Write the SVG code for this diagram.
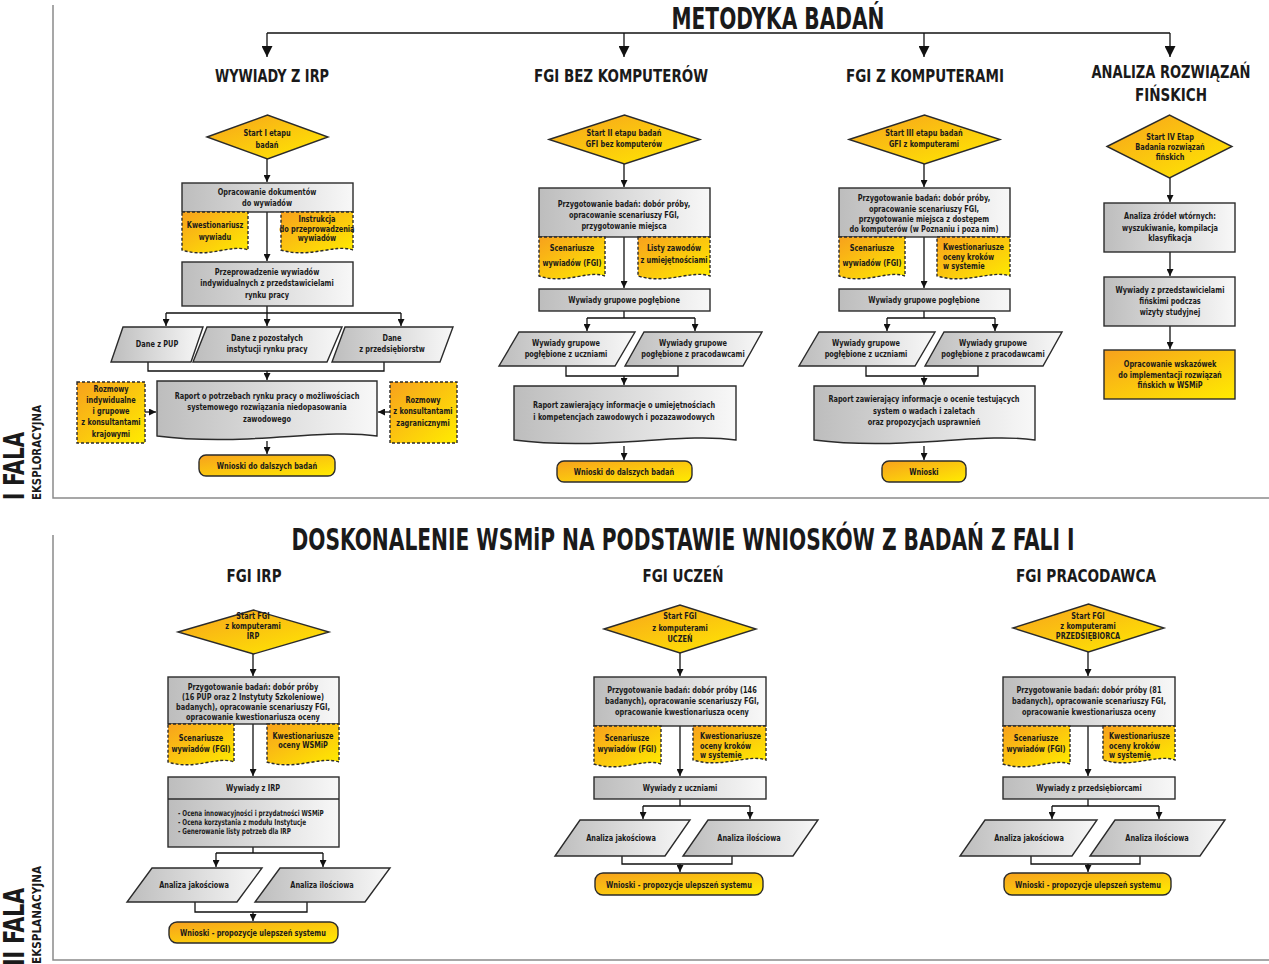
<svg xmlns="http://www.w3.org/2000/svg" width="1269" height="964" viewBox="0 0 1269 964">
<defs>
<linearGradient id="gy" x1="0" y1="0" x2="1" y2="0"><stop offset="0" stop-color="#bdbdbd"/><stop offset="1" stop-color="#f8f8f8"/></linearGradient>
<linearGradient id="or" x1="0" y1="0" x2="1" y2="1"><stop offset="0" stop-color="#f7a11d"/><stop offset="1" stop-color="#ffec00"/></linearGradient>
<marker id="a" markerUnits="userSpaceOnUse" markerWidth="7" markerHeight="7" refX="7" refY="3.5" orient="auto"><path d="M0,0 L7,3.5 L0,7 Z" fill="#111"/></marker>
<marker id="A" markerUnits="userSpaceOnUse" markerWidth="11" markerHeight="11" refX="11" refY="5.5" orient="auto"><path d="M0,0 L11,5.5 L0,11 Z" fill="#111"/></marker>
<style>
.n{stroke:#2b2b2b;stroke-width:1.4}
.gy{fill:url(#gy)}
.or{fill:url(#or)}
.ds{stroke-dasharray:3 2}
text{font-family:'Liberation Sans Narrow','DejaVu Sans Condensed','Roboto Condensed',sans-serif;font-weight:bold;fill:#1a1a1a}
.s{font-size:9.5px;text-anchor:middle;transform-box:fill-box;transform-origin:center;transform:scaleX(.77)}
.x{font-size:8.2px}
.l{text-anchor:start;transform-origin:left center}
.h{font-size:18px;text-anchor:middle}
.T{font-size:30px;text-anchor:middle}
.c{fill:none;stroke:#111;stroke-width:1.3}
.ca{fill:none;stroke:#111;stroke-width:1.3;marker-end:url(#a)}
.cA{fill:none;stroke:#111;stroke-width:1.3;marker-end:url(#A)}
.fr{fill:none;stroke:#8a8a8a;stroke-width:1.5}
</style>
</defs>
<rect width="1269" height="964" fill="#fff"/>

<g id="frames">
<path class="fr" d="M53,5 V498 H1269"/>
<path class="fr" d="M53,535 V960 H1269"/>
</g>

<g id="labels">
<text class="T" x="778" y="29" textLength="213" lengthAdjust="spacingAndGlyphs">METODYKA BADAŃ</text>
<text class="h" x="272" y="82" textLength="114" lengthAdjust="spacingAndGlyphs">WYWIADY Z IRP</text>
<text class="h" x="621" y="82" textLength="174" lengthAdjust="spacingAndGlyphs">FGI BEZ KOMPUTERÓW</text>
<text class="h" x="925" y="82" textLength="158" lengthAdjust="spacingAndGlyphs">FGI Z KOMPUTERAMI</text>
<text class="h" x="1171" y="78" textLength="159" lengthAdjust="spacingAndGlyphs">ANALIZA ROZWIĄZAŃ</text>
<text class="h" x="1171" y="101" textLength="72" lengthAdjust="spacingAndGlyphs">FIŃSKICH</text>
<text class="T" x="683" y="550" textLength="783" lengthAdjust="spacingAndGlyphs">DOSKONALENIE WSMiP NA PODSTAWIE WNIOSKÓW Z BADAŃ Z FALI I</text>
<text class="h" x="254" y="582" textLength="55" lengthAdjust="spacingAndGlyphs">FGI IRP</text>
<text class="h" x="683" y="582" textLength="81" lengthAdjust="spacingAndGlyphs">FGI UCZEŃ</text>
<text class="h" x="1086" y="582" textLength="140" lengthAdjust="spacingAndGlyphs">FGI PRACODAWCA</text>
<text transform="translate(24,500) rotate(-90)" font-size="28" textLength="68" lengthAdjust="spacingAndGlyphs">I FALA</text>
<text transform="translate(41,500) rotate(-90)" font-size="12" textLength="95" lengthAdjust="spacingAndGlyphs">EKSPLORACYJNA</text>
<text transform="translate(24,966) rotate(-90)" font-size="28" textLength="78" lengthAdjust="spacingAndGlyphs">II FALA</text>
<text transform="translate(41,964) rotate(-90)" font-size="12" textLength="98" lengthAdjust="spacingAndGlyphs">EKSPLANACYJNA</text>
</g>

<g id="connectors">
<path class="c" d="M267,33 H1170"/>
<path class="cA" d="M267,33 V57"/>
<path class="cA" d="M624,33 V57"/>
<path class="cA" d="M924,33 V57"/>
<path class="cA" d="M1170,33 V57"/>
<path class="ca" d="M267,159 V182"/>
<path class="ca" d="M267,212 V261"/>
<path class="c" d="M267,306 V313 M166,313 H401"/>
<path class="ca" d="M166,313 V326"/>
<path class="ca" d="M267,313 V326"/>
<path class="ca" d="M401,313 V326"/>
<path class="c" d="M148,362 V371 H384 V362"/>
<path class="ca" d="M267,371 V380"/>
<path class="ca" d="M145,412 H156"/>
<path class="ca" d="M390,412 H378"/>
<path class="ca" d="M267,441 V454"/>
<path class="ca" d="M624,164 V187"/>
<path class="ca" d="M624,237 V288"/>
<path class="c" d="M624,311 V318 M587,318 H695"/>
<path class="ca" d="M587,318 V331"/>
<path class="ca" d="M695,318 V331"/>
<path class="c" d="M566,366 V376 H678 V366"/>
<path class="ca" d="M624,376 V385"/>
<path class="ca" d="M624,446 V460"/>
<path class="ca" d="M924,164 V187"/>
<path class="ca" d="M924,237 V288"/>
<path class="c" d="M924,311 V318 M887,318 H995"/>
<path class="ca" d="M887,318 V331"/>
<path class="ca" d="M995,318 V331"/>
<path class="c" d="M866,366 V376 H978 V366"/>
<path class="ca" d="M924,376 V385"/>
<path class="ca" d="M924,446 V460"/>
<path class="ca" d="M1170,178 V202"/>
<path class="ca" d="M1170,252 V276"/>
<path class="ca" d="M1170,326 V349"/>
<path class="ca" d="M253,654 V676"/>
<path class="ca" d="M253,724 V776"/>
<path class="c" d="M253,847 V853 M216,853 H323"/>
<path class="ca" d="M216,853 V867"/>
<path class="ca" d="M323,853 V867"/>
<path class="c" d="M195,902 V912 H307 V902"/>
<path class="ca" d="M253,912 V921"/>
<path class="ca" d="M680,653 V676"/>
<path class="ca" d="M680,726 V776"/>
<path class="c" d="M680,799 V806 M643,806 H750"/>
<path class="ca" d="M643,806 V819"/>
<path class="ca" d="M750,806 V819"/>
<path class="c" d="M622,856 V864 H732 V856"/>
<path class="ca" d="M680,864 V872"/>
<path class="ca" d="M1088,652 V676"/>
<path class="ca" d="M1088,726 V776"/>
<path class="c" d="M1088,799 V806 M1052,806 H1159"/>
<path class="ca" d="M1052,806 V819"/>
<path class="ca" d="M1159,806 V819"/>
<path class="c" d="M1031,856 V864 H1140 V856"/>
<path class="ca" d="M1088,864 V872"/>
</g>

<g id="c1-start"><polygon class="n or" points="207,137 267.5,115 328,137 267.5,159"/>
<text class="s" x="267" y="136">Start I etapu</text><text class="s" x="267" y="148">badań</text></g>
<g id="c1-docs"><rect class="n gy" x="182" y="183" width="171" height="29"/>
<text class="s" x="267" y="195">Opracowanie dokumentów</text><text class="s" x="267" y="206">do wywiadów</text></g>
<g id="c1-kw"><path class="n or ds" d="M182,212 H248 V250 C231.5,243.6 208.4,258.8 182,250 Z"/>
<text class="s" x="215" y="228">Kwestionariusz</text><text class="s" x="215" y="240">wywiadu</text></g>
<g id="c1-instr"><path class="n or ds" d="M281,212 H353 V250 C335,243.6 309.8,258.8 281,250 Z"/>
<text class="s" x="317" y="222">Instrukcja</text><text class="s" x="317" y="232">do przeprowadzenia</text><text class="s" x="317" y="241">wywiadów</text></g>
<g id="c1-przepr"><rect class="n gy" x="182" y="262" width="171" height="44"/>
<text class="s" x="267" y="275">Przeprowadzenie wywiadów</text><text class="s" x="267" y="286">indywidualnych z przedstawicielami</text><text class="s" x="267" y="298">rynku pracy</text></g>
<g id="c1-pup"><polygon class="n gy" points="123,327 203,327 191,362 111,362"/>
<text class="s" x="157" y="347">Dane z PUP</text></g>
<g id="c1-inst"><polygon class="n gy" points="207,327 342,327 327,362 193,362"/>
<text class="s" x="267" y="341">Dane z pozostałych</text><text class="s" x="267" y="352">instytucji rynku pracy</text></g>
<g id="c1-przeds"><polygon class="n gy" points="345,327 453,327 440,362 332,362"/>
<text class="s" x="392" y="341">Dane</text><text class="s" x="392" y="352">z przedsiębiorstw</text></g>
<g id="c1-raport"><path class="n gy" d="M157,381 H377 V436 C322,428 245,447 157,436 Z"/>
<text class="s" x="267" y="399">Raport o potrzebach rynku pracy o możliwościach</text><text class="s" x="267" y="410">systemowego rozwiązania niedopasowania</text><text class="s" x="267" y="422">zawodowego</text></g>
<g id="c1-kraj"><rect class="n or ds" x="77" y="382" width="68" height="61"/>
<text class="s" x="111" y="392">Rozmowy</text><text class="s" x="111" y="403">indywidualne</text><text class="s" x="111" y="414">i grupowe</text><text class="s" x="111" y="425">z konsultantami</text><text class="s" x="111" y="437">krajowymi</text></g>
<g id="c1-zagr"><rect class="n or ds" x="390" y="382" width="67" height="61"/>
<text class="s" x="423" y="403">Rozmowy</text><text class="s" x="423" y="414">z konsultantami</text><text class="s" x="423" y="426">zagranicznymi</text></g>
<g id="c1-wnioski"><rect class="n or" x="199" y="455" width="136" height="21" rx="7"/>
<text class="s" x="267" y="469">Wnioski do dalszych badań</text></g>

<g id="c2-start"><polygon class="n or" points="549,139.5 624.5,115 700,139.5 624.5,164"/>
<text class="s" x="624" y="136">Start II etapu badań</text><text class="s" x="624" y="147">GFI bez komputerów</text></g>
<g id="c2-przyg"><rect class="n gy" x="539" y="188" width="171" height="49"/>
<text class="s" x="624" y="207">Przygotowanie badań: dobór próby,</text><text class="s" x="624" y="218">opracowanie scenariuszy FGI,</text><text class="s" x="624" y="229">przygotowanie miejsca</text></g>
<g id="c2-scen"><path class="n or ds" d="M539,237 H605 V276 C588.5,269.6 565.4,284.8 539,276 Z"/>
<text class="s" x="572" y="251">Scenariusze</text><text class="s" x="572" y="266">wywiadów (FGI)</text></g>
<g id="c2-listy"><path class="n or ds" d="M638,237 H710 V276 C692,269.6 666.8,284.8 638,276 Z"/>
<text class="s" x="674" y="251">Listy zawodów</text><text class="s" x="674" y="263">z umiejętnościami</text></g>
<g id="c2-wyw"><rect class="n gy" x="539" y="289" width="171" height="22"/>
<text class="s" x="624" y="303">Wywiady grupowe pogłębione</text></g>
<g id="c2-ucz"><polygon class="n gy" points="519,332 635,332 615,366 499,366"/>
<text class="s" x="566" y="346">Wywiady grupowe</text><text class="s" x="566" y="357">pogłębione z uczniami</text></g>
<g id="c2-prac"><polygon class="n gy" points="644,332 762,332 743,366 625,366"/>
<text class="s" x="693" y="346">Wywiady grupowe</text><text class="s" x="693" y="357">pogłębione z pracodawcami</text></g>
<g id="c2-raport"><path class="n gy" d="M514,386 H736 V440 C680.5,432 602.8,451 514,440 Z"/>
<text class="s" x="624" y="408">Raport zawierający informacje o umiejętnościach</text><text class="s" x="624" y="420">i kompetencjach zawodowych i pozazawodowych</text></g>
<g id="c2-wnioski"><rect class="n or" x="557" y="461" width="135" height="21" rx="7"/>
<text class="s" x="624" y="475">Wnioski do dalszych badań</text></g>

<g id="c3-start"><polygon class="n or" points="849,139.5 924.5,115 1000,139.5 924.5,164"/>
<text class="s" x="924" y="136">Start III etapu badań</text><text class="s" x="924" y="147">GFI z komputerami</text></g>
<g id="c3-przyg"><rect class="n gy" x="839" y="188" width="171" height="49"/>
<text class="s" x="924" y="201">Przygotowanie badań: dobór próby,</text><text class="s" x="924" y="212">opracowanie scenariuszy FGI,</text><text class="s" x="924" y="222">przygotowanie miejsca z dostępem</text><text class="s" x="924" y="232">do komputerów (w Poznaniu i poza nim)</text></g>
<g id="c3-scen"><path class="n or ds" d="M839,237 H905 V276 C888.5,269.6 865.4,284.8 839,276 Z"/>
<text class="s" x="872" y="251">Scenariusze</text><text class="s" x="872" y="266">wywiadów (FGI)</text></g>
<g id="c3-kw"><path class="n or ds" d="M937,237 H1010 V276 C991.75,269.6 966.2,284.8 937,276 Z"/>
<text class="s l" x="943" y="250">Kwestionariusze</text><text class="s l" x="943" y="260">oceny kroków</text><text class="s l" x="943" y="269">w systemie</text></g>
<g id="c3-wyw"><rect class="n gy" x="839" y="289" width="171" height="22"/>
<text class="s" x="924" y="303">Wywiady grupowe pogłębione</text></g>
<g id="c3-ucz"><polygon class="n gy" points="819,332 935,332 915,366 799,366"/>
<text class="s" x="866" y="346">Wywiady grupowe</text><text class="s" x="866" y="357">pogłębione z uczniami</text></g>
<g id="c3-prac"><polygon class="n gy" points="944,332 1062,332 1043,366 925,366"/>
<text class="s" x="993" y="346">Wywiady grupowe</text><text class="s" x="993" y="357">pogłębione z pracodawcami</text></g>
<g id="c3-raport"><path class="n gy" d="M814,386 H1035 V440 C979.75,432 902.4,451 814,440 Z"/>
<text class="s" x="924" y="402">Raport zawierający informacje o ocenie testujących</text><text class="s" x="924" y="414">system o wadach i zaletach</text><text class="s" x="924" y="425">oraz propozycjach usprawnień</text></g>
<g id="c3-wnioski"><rect class="n or" x="882" y="461" width="84" height="21" rx="7"/>
<text class="s" x="924" y="475">Wnioski</text></g>

<g id="c4-start"><polygon class="n or" points="1107,146.5 1169.5,115 1232,146.5 1169.5,178"/>
<text class="s" x="1170" y="140">Start IV Etap</text><text class="s" x="1170" y="150">Badania rozwiązań</text><text class="s" x="1170" y="160">fińskich</text></g>
<g id="c4-analiza"><rect class="n gy" x="1104" y="203" width="131" height="49"/>
<text class="s" x="1170" y="219">Analiza źródeł wtórnych:</text><text class="s" x="1170" y="231">wyszukiwanie, kompilacja</text><text class="s" x="1170" y="241">klasyfikacja</text></g>
<g id="c4-wyw"><rect class="n gy" x="1104" y="277" width="131" height="49"/>
<text class="s" x="1170" y="293">Wywiady z przedstawicielami</text><text class="s" x="1170" y="304">fińskimi podczas</text><text class="s" x="1170" y="315">wizyty studyjnej</text></g>
<g id="c4-opr"><rect class="n or" x="1104" y="350" width="131" height="49"/>
<text class="s" x="1170" y="367">Opracowanie wskazówek</text><text class="s" x="1170" y="378">do implementacji rozwiązań</text><text class="s" x="1170" y="388">fińskich w WSMiP</text></g>

<g id="b1-start"><polygon class="n or" points="178,632 253.5,610 329,632 253.5,654"/>
<text class="s" x="253" y="619">Start FGI</text><text class="s" x="253" y="629">z komputerami</text><text class="s" x="253" y="639">IRP</text></g>
<g id="b1-przyg"><rect class="n gy" x="168" y="677" width="171" height="47"/>
<text class="s" x="253" y="690">Przygotowanie badań: dobór próby</text><text class="s" x="253" y="700">(16 PUP oraz 2 Instytuty Szkoleniowe)</text><text class="s" x="253" y="710">badanych), opracowanie scenariuszy FGI,</text><text class="s" x="253" y="720">opracowanie kwestionariusza oceny</text></g>
<g id="b1-scen"><path class="n or ds" d="M168,724 H234 V762 C217.5,755.6 194.4,770.8 168,762 Z"/>
<text class="s" x="201" y="741">Scenariusze</text><text class="s" x="201" y="752">wywiadów (FGI)</text></g>
<g id="b1-kw"><path class="n or ds" d="M267,724 H339 V762 C321,755.6 295.8,770.8 267,762 Z"/>
<text class="s" x="303" y="739">Kwestionariusze</text><text class="s" x="303" y="748">oceny WSMiP</text></g>
<g id="b1-wyw"><rect class="n gy" x="168" y="777" width="171" height="70"/><path class="n" d="M168,799 H339" fill="none"/>
<text class="s" x="253" y="791">Wywiady z IRP</text>
<text class="s x l" x="178" y="816">- Ocena innowacyjności i przydatności WSMiP</text><text class="s x l" x="178" y="825">- Ocena korzystania z modułu Instytucje</text><text class="s x l" x="178" y="834">- Generowanie listy potrzeb dla IRP</text></g>
<g id="b1-jak"><polygon class="n gy" points="152,868 262,868 237,902 127,902"/>
<text class="s" x="194" y="888">Analiza jakościowa</text></g>
<g id="b1-il"><polygon class="n gy" points="280,868 390,868 365,902 255,902"/>
<text class="s" x="322" y="888">Analiza ilościowa</text></g>
<g id="b1-wnioski"><rect class="n or" x="169" y="922" width="169" height="21" rx="8"/>
<text class="s" x="253" y="936">Wnioski - propozycje ulepszeń systemu</text></g>

<g id="b2-start"><polygon class="n or" points="604,629 680,605 756,629 680,653"/>
<text class="s" x="680" y="619">Start FGI</text><text class="s" x="680" y="631">z komputerami</text><text class="s" x="680" y="642">UCZEŃ</text></g>
<g id="b2-przyg"><rect class="n gy" x="594" y="677" width="172" height="49"/>
<text class="s" x="682" y="693">Przygotowanie badań: dobór próby (146</text><text class="s" x="682" y="704">badanych), opracowanie scenariuszy FGI,</text><text class="s" x="682" y="715">opracowanie kwestionariusza oceny</text></g>
<g id="b2-scen"><path class="n or ds" d="M594,726 H661 V764 C644.25,757.6 620.8,772.8 594,764 Z"/>
<text class="s" x="627" y="741">Scenariusze</text><text class="s" x="627" y="752">wywiadów (FGI)</text></g>
<g id="b2-kw"><path class="n or ds" d="M693,726 H766 V760 C747.75,753.6 722.2,768.8 693,760 Z"/>
<text class="s l" x="700" y="739">Kwestionariusze</text><text class="s l" x="700" y="749">oceny kroków</text><text class="s l" x="700" y="758">w  systemie</text></g>
<g id="b2-wyw"><rect class="n gy" x="594" y="777" width="172" height="22"/>
<text class="s" x="680" y="791">Wywiady z uczniami</text></g>
<g id="b2-jak"><polygon class="n gy" points="580,820 690,820 665,856 555,856"/>
<text class="s" x="621" y="841">Analiza jakościowa</text></g>
<g id="b2-il"><polygon class="n gy" points="708,820 818,820 793,856 683,856"/>
<text class="s" x="749" y="841">Analiza ilościowa</text></g>
<g id="b2-wnioski"><rect class="n or" x="595" y="873" width="168" height="22" rx="8"/>
<text class="s" x="679" y="888">Wnioski - propozycje ulepszeń systemu</text></g>

<g id="b3-start"><polygon class="n or" points="1013,628 1088.5,604 1164,628 1088.5,652"/>
<text class="s" x="1088" y="619">Start FGI</text><text class="s" x="1088" y="629">z komputerami</text><text class="s" x="1088" y="639">PRZEDSIĘBIORCA</text></g>
<g id="b3-przyg"><rect class="n gy" x="1003" y="677" width="172" height="49"/>
<text class="s" x="1089" y="693">Przygotowanie badań: dobór próby (81</text><text class="s" x="1089" y="704">badanych), opracowanie scenariuszy FGI,</text><text class="s" x="1089" y="715">opracowanie kwestionariusza oceny</text></g>
<g id="b3-scen"><path class="n or ds" d="M1003,726 H1070 V764 C1053.25,757.6 1029.8,772.8 1003,764 Z"/>
<text class="s" x="1036" y="741">Scenariusze</text><text class="s" x="1036" y="752">wywiadów (FGI)</text></g>
<g id="b3-kw"><path class="n or ds" d="M1103,726 H1175 V760 C1157,753.6 1131.8,768.8 1103,760 Z"/>
<text class="s l" x="1109" y="739">Kwestionariusze</text><text class="s l" x="1109" y="749">oceny kroków</text><text class="s l" x="1109" y="758">w systemie</text></g>
<g id="b3-wyw"><rect class="n gy" x="1003" y="777" width="172" height="22"/>
<text class="s" x="1089" y="791">Wywiady z przedsiębiorcami</text></g>
<g id="b3-jak"><polygon class="n gy" points="985,820 1097,820 1072,856 960,856"/>
<text class="s" x="1029" y="841">Analiza jakościowa</text></g>
<g id="b3-il"><polygon class="n gy" points="1115,820 1225,820 1200,856 1090,856"/>
<text class="s" x="1157" y="841">Analiza ilościowa</text></g>
<g id="b3-wnioski"><rect class="n or" x="1004" y="873" width="167" height="22" rx="8"/>
<text class="s" x="1088" y="888">Wnioski - propozycje ulepszeń systemu</text></g>
</svg>
